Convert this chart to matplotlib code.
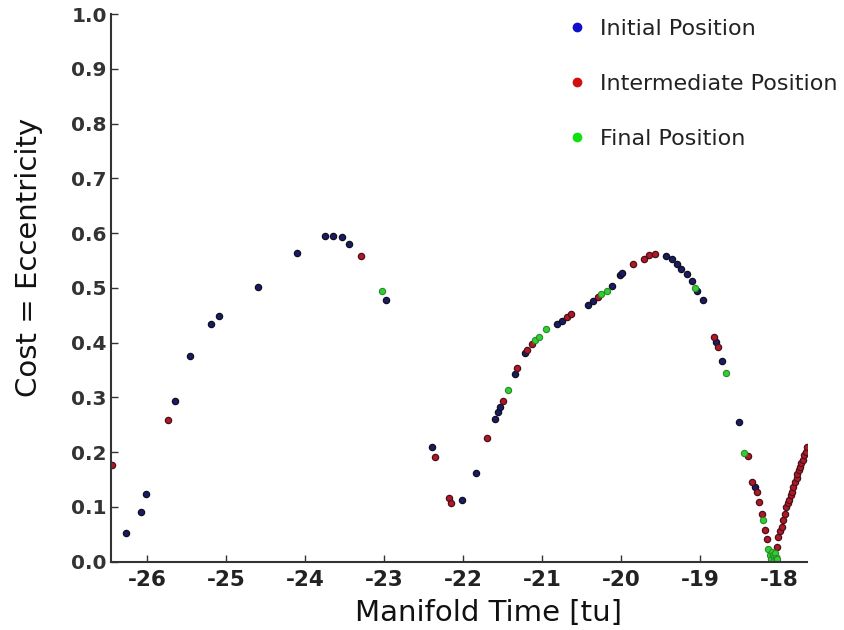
import matplotlib
matplotlib.use("Agg")
import matplotlib.pyplot as plt
from matplotlib.lines import Line2D

# values
initial_x = [-26.27, -26.08, -26.02, -25.65, -25.46, -25.19, -25.09, -24.60, -24.10,
             -23.75, -23.65, -23.53, -23.45, -22.98, -22.39, -22.01, -21.84, -21.60,
             -21.56, -21.54, -21.35, -21.22, -20.81, -20.75, -20.42, -20.36, -20.12,
             -20.02, -19.99, -19.43, -19.36, -19.30, -19.24, -19.17, -19.11, -19.04,
             -18.97, -18.80, -18.72, -18.51, -18.31]
initial_y = [0.053, 0.091, 0.123, 0.293, 0.375, 0.434, 0.448, 0.501, 0.563,
             0.595, 0.595, 0.593, 0.580, 0.478, 0.210, 0.113, 0.161, 0.261,
             0.273, 0.283, 0.343, 0.380, 0.433, 0.439, 0.468, 0.476, 0.503,
             0.523, 0.527, 0.558, 0.552, 0.544, 0.535, 0.526, 0.512, 0.494,
             0.478, 0.401, 0.366, 0.255, 0.136]

inter_x = [-26.45, -25.74, -23.30, -22.36, -22.18, -22.15, -21.70, -21.50, -21.32,
           -21.19, -21.13, -20.69, -20.63, -20.29, -19.85, -19.71, -19.65, -19.57,
           -18.82, -18.78, -18.39, -18.34, -18.28, -18.25, -18.22, -18.18, -18.16,
           -18.03, -18.01, -17.99, -17.97, -17.95, -17.93, -17.91, -17.89, -17.87,
           -17.85, -17.84, -17.82, -17.80, -17.78, -17.77, -17.75, -17.74, -17.72,
           -17.70, -17.68, -17.66, -17.65]
inter_y = [0.177, 0.259, 0.558, 0.191, 0.116, 0.107, 0.226, 0.293, 0.354,
           0.387, 0.398, 0.446, 0.453, 0.483, 0.544, 0.553, 0.559, 0.561,
           0.411, 0.391, 0.192, 0.145, 0.127, 0.108, 0.087, 0.057, 0.041,
           0.026, 0.044, 0.055, 0.063, 0.075, 0.087, 0.099, 0.106, 0.112,
           0.122, 0.127, 0.137, 0.145, 0.153, 0.160, 0.167, 0.172, 0.180,
           0.186, 0.194, 0.200, 0.210]

final_x = [-23.03, -21.44, -21.09, -21.04, -20.95, -20.25, -20.18, -19.07, -18.67,
           -18.44, -18.20, -18.14, -18.12, -18.10, -18.09, -18.08, -18.07, -18.06,
           -18.05, -18.04, -18.03]
final_y = [0.495, 0.314, 0.405, 0.411, 0.424, 0.489, 0.495, 0.500, 0.345,
           0.199, 0.075, 0.023, 0.011, 0.005, 0.018, 0.012, 0.008, 0.003,
           0.015, 0.007, 0.004]

labels = ["Initial Position", "Intermediate Position", "Final Position"]
colors = ["#1010c8", "#d01010", "#10e010"]

fig = plt.figure(figsize=(8.44, 6.30), dpi=100)
ax = fig.add_axes([0.1315, 0.1087, 0.8245, 0.869])

# points drawn small with dark edges, the way they look in the original
ax.plot(initial_x, initial_y, 'o', ms=4.5, mfc='#1a1a6a', mec='#101018', mew=0.9, ls='none')
ax.plot(inter_x, inter_y, 'o', ms=4.5, mfc='#b01828', mec='#4a1018', mew=0.9, ls='none')
ax.plot(final_x, final_y, 'o', ms=4.5, mfc='#30d030', mec='#2a8a2a', mew=0.8, ls='none')

ax.set_xlim(-26.46, -17.65)
ax.set_ylim(0.0, 1.0)
ax.set_xticks([-26, -25, -24, -23, -22, -21, -20, -19, -18])
ax.set_xticklabels(["-26", "-25", "-24", "-23", "-22", "-21", "-20", "-19", "-18"])
ax.set_yticks([0.0, 0.1, 0.2, 0.3, 0.4, 0.5, 0.6, 0.7, 0.8, 0.9, 1.0])

for side in ['top', 'right']:
    ax.spines[side].set_visible(False)
for side in ['left', 'bottom']:
    ax.spines[side].set_color('#333333')
    ax.spines[side].set_linewidth(1.5)

ax.tick_params(direction='in', length=5, width=1, colors='#333333')
ax.tick_params(axis='x', labelsize=15.5, labelcolor='#222222', pad=6)
ax.tick_params(axis='y', labelsize=14.5, labelcolor='#333333', pad=3)
for lab in ax.get_xticklabels() + ax.get_yticklabels():
    lab.set_fontweight('bold')

ax.set_xlabel("Manifold Time [tu]", fontsize=21, color='#111111')
ax.set_ylabel("Cost = Eccentricity", fontsize=21, color='#111111')
ax.xaxis.set_label_coords(0.542, -0.068)
ax.yaxis.set_label_coords(-0.097, 0.555)

handles = [Line2D([], [], marker='o', ls='none', ms=6, mfc=c, mec=c) for c in colors]
fig.legend(handles, labels, loc='upper left', bbox_to_anchor=(0.6706, 0.9695),
           frameon=False, fontsize=16, labelspacing=1.57, handlelength=1.0,
           handletextpad=0.54, borderpad=0, borderaxespad=0, labelcolor='#222222')

fig.savefig("out.png", dpi=100)
